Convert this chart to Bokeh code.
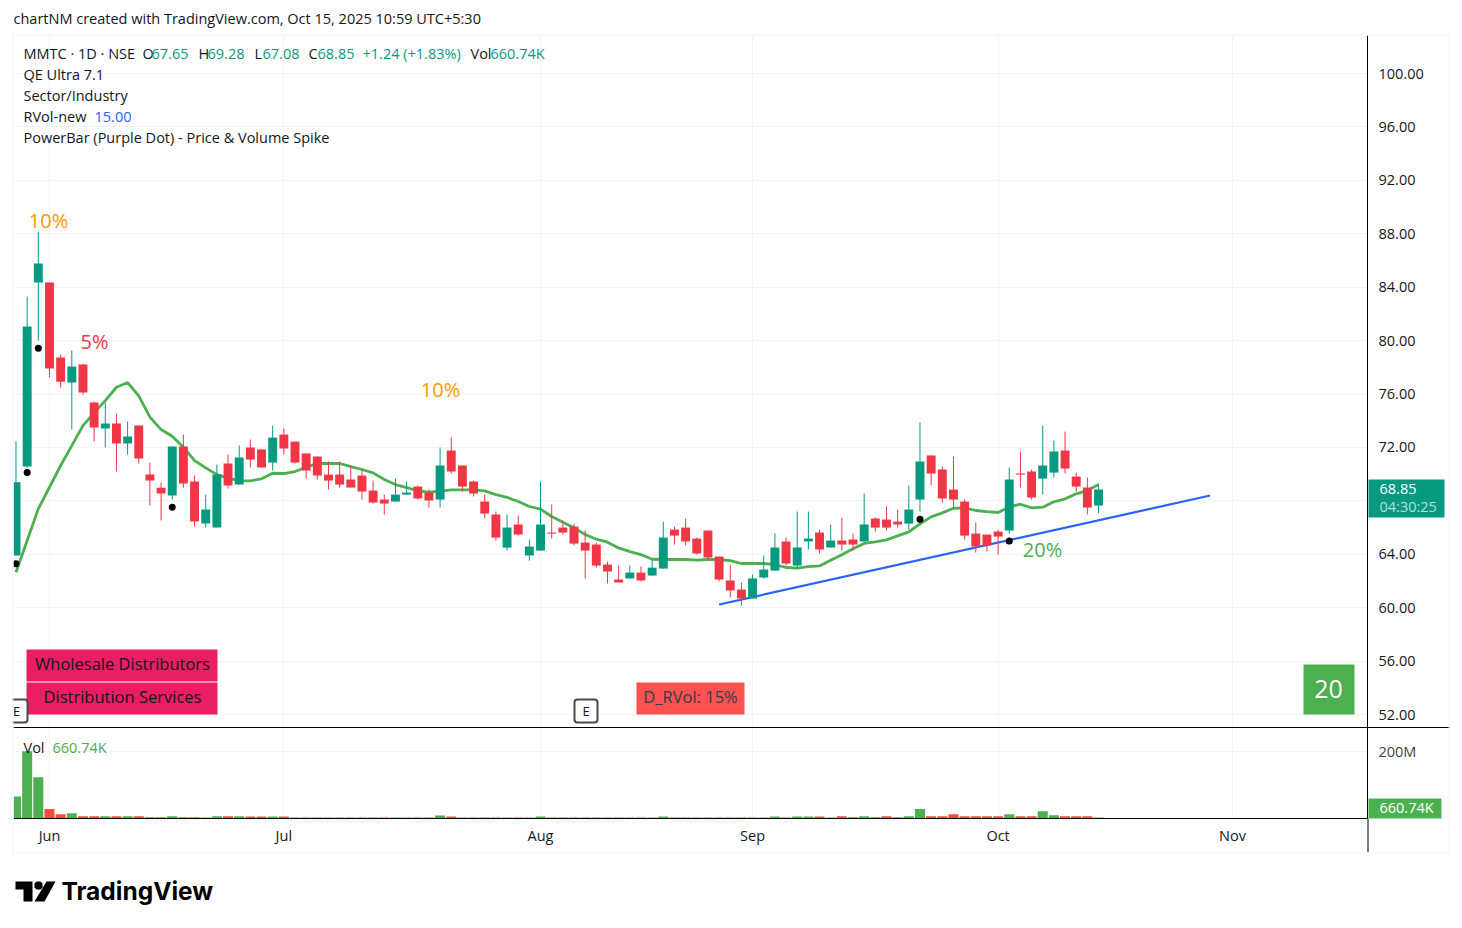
from bokeh.plotting import figure
from bokeh.layouts import column
from bokeh.models import (Range1d, FixedTicker, Grid, Label, BoxAnnotation, PolyAnnotation,
                          ColumnDataSource)
from bokeh.embed import file_html
from bokeh.resources import INLINE

# ---------- data ----------
opens = [63.91,70.57,84.35,84.35,78.73,76.86,78.21,75.36,73.42,73.79,72.29,73.64,69.97,68.99,68.40,72.07,69.45,66.30,66.00,70.80,
         69.22,71.99,71.85,70.87,72.97,72.44,71.55,71.32,69.97,69.97,69.60,69.90,68.77,68.10,67.95,68.47,69.07,68.62,68.10,71.77,
         70.65,69.45,67.95,66.98,64.50,66.23,63.91,64.28,65.63,66.00,66.08,64.88,64.73,63.23,62.11,62.19,62.63,62.41,62.93,65.85,
         66.00,65.18,65.78,63.83,62.04,61.36,60.69,62.26,62.78,64.96,63.16,64.96,65.63,64.51,65.03,65.11,64.96,66.68,66.60,66.45,
         66.30,68.10,71.40,70.35,68.85,67.95,65.55,65.48,65.70,65.78,70.05,70.20,69.67,70.12,71.77,69.82,69.00,67.65]
highs = [72.47,83.30,88.17,84.35,78.96,79.26,78.28,75.44,75.36,74.54,73.94,73.64,70.87,69.37,72.07,72.97,69.90,68.47,70.72,71.47,
         72.14,72.59,71.85,73.64,73.42,72.44,71.55,71.32,70.95,70.95,70.65,70.35,69.52,68.47,69.67,69.45,69.15,68.85,71.99,72.74,
         70.65,69.52,68.47,67.20,66.98,66.90,65.10,69.45,67.73,66.53,66.30,65.78,64.88,63.46,63.16,63.16,63.08,63.61,66.45,66.08,
         66.68,65.25,65.78,63.83,63.23,61.89,62.49,63.91,65.56,65.26,67.20,67.20,65.85,66.23,66.75,65.56,68.55,66.75,67.58,67.35,
         69.15,73.87,71.40,70.57,71.32,68.10,66.38,65.48,65.85,70.50,71.70,70.35,73.64,72.52,73.19,70.12,69.75,69.28]
lows = [63.90,70.50,80.00,77.24,76.49,73.34,75.96,72.44,72.00,70.20,71.47,70.80,67.65,66.53,68.10,68.99,66.08,66.00,66.00,68.92,
        69.20,70.50,70.50,70.27,71.47,70.80,69.67,69.60,68.85,69.00,69.00,68.10,67.80,66.98,67.95,68.47,68.10,67.50,67.50,70.05,
        68.70,68.33,66.68,65.03,64.28,65.40,63.53,64.28,65.18,65.48,64.66,62.18,63.00,61.81,61.89,62.19,61.96,62.41,62.93,64.73,
        64.66,63.98,63.61,61.96,60.76,60.16,60.69,62.18,62.78,63.16,62.93,64.36,64.06,64.51,64.28,64.28,64.96,65.70,65.78,66.00,
        65.85,67.20,69.15,67.88,67.50,65.10,64.13,64.21,63.98,65.55,69.00,68.10,68.48,69.75,70.05,68.70,66.98,67.08]
closes = [69.40,81.06,85.77,77.91,76.93,78.06,76.11,73.49,73.79,72.29,72.82,71.17,69.52,68.55,72.07,69.30,66.45,67.35,69.97,69.15,
          71.25,71.10,70.50,72.74,71.92,70.87,70.27,69.90,69.52,69.22,69.00,68.70,67.88,67.80,68.47,68.62,68.18,68.03,70.65,70.20,
          69.07,68.55,67.05,65.25,66.00,65.48,64.58,66.23,65.55,65.63,64.80,64.28,63.16,62.71,61.89,62.63,62.04,63.00,65.25,65.40,
          64.96,64.06,63.76,62.11,61.29,60.69,62.19,62.86,64.51,63.31,64.51,65.18,64.36,65.03,64.73,64.73,66.23,66.00,66.00,66.23,
          67.35,70.95,70.05,68.18,68.10,65.40,64.58,64.66,65.33,69.60,69.97,68.25,70.65,71.70,70.42,69.07,67.50,68.85]
sma = [62.66,65.03,67.40,69.02,70.65,72.14,73.64,74.59,75.51,76.51,76.86,75.86,74.27,73.34,72.84,72.02,71.02,70.47,69.97,69.70,
       69.52,69.50,69.65,70.07,70.05,70.20,70.52,70.80,70.80,70.80,70.57,70.35,70.10,69.60,69.22,69.00,68.75,68.65,68.73,68.83,
       68.83,68.83,68.75,68.47,68.27,67.95,67.58,67.38,66.83,66.40,65.98,65.48,65.13,64.91,64.48,64.20,63.98,63.63,63.61,63.61,
       63.61,63.56,63.61,63.61,63.53,63.31,63.31,63.31,63.23,63.01,62.96,63.08,63.13,63.56,63.96,64.41,64.81,64.93,65.08,65.38,
       65.68,66.28,66.80,67.10,67.45,67.48,67.28,67.20,67.13,67.55,67.75,67.48,67.53,67.93,68.15,68.53,68.77,69.22]
volumes_m = [66,201,123,28,13,16,7,7,7,7,7,7,4,4,7,4,4,3,7,7,
             7,6,6,6,6,3,3,3,3,3,3,3,3,3,3,3,3,3,9,6,
             3,3,3,3,3,3,3,6,3,3,3,3,3,3,3,3,3,3,6,3,
             3,3,3,3,3,3,3,3,6,3,6,6,6,3,7,4,7,4,7,4,
             7,28,7,7,13,7,7,7,7,13,7,7,22,10,7,7,7,3]
dot_idx = [0, 1, 2, 14, 81, 89]
dot_price = [63.3, 70.12, 79.43, 67.52, 66.63, 65.0]
trend_idx = [63, 107]
trend_price = [60.24, 68.4]
price_ticks = [52,56,60,64,68,72,76,80,84,88,92,96,100]
month_idx = [3, 24, 47, 66, 88, 109]
month_names = ["Jun", "Jul", "Aug", "Sep", "Oct", "Nov"]

UP, DOWN = "#089981", "#f23645"
VUP, VDOWN = "#4caf50", "#fa4b3c"
GRID = "#f0f3fa"
INK = "#131722"
FONT = "Open Sans"

n = len(opens)
idx = list(range(n))
up = [c >= o for o, c in zip(opens, closes)]
src = ColumnDataSource(dict(
    x=idx, o=opens, h=highs, l=lows, c=closes,
    top=[max(a, b) for a, b in zip(opens, closes)],
    bot=[min(a, b) for a, b in zip(opens, closes)],
    col=[UP if u else DOWN for u in up],
    vcol=[VUP if u else VDOWN for u in up],
    v=volumes_m,
))

xr = Range1d(-0.224, 121.1)
p = figure(width=1454, height=727, x_range=xr, y_range=Range1d(51.03, 102.85),
           output_backend="svg", toolbar_location=None, y_axis_location="right",
           min_border_left=13, min_border_right=87, min_border_top=35, min_border_bottom=0)
p.outline_line_color = None
p.xaxis.visible = False
p.xgrid.visible = False
p.add_layout(Grid(dimension=0, ticker=FixedTicker(ticks=month_idx), grid_line_color=GRID, grid_line_width=1))
p.ygrid.ticker = FixedTicker(ticks=price_ticks)
p.ygrid.grid_line_color = GRID
ax = p.yaxis[0]
ax.ticker = FixedTicker(ticks=price_ticks)
ax.major_label_overrides = {t: f"{t:.2f}" for t in price_ticks}
ax.major_tick_line_color = None
ax.minor_tick_line_color = None
ax.axis_line_color = "#000000"
ax.major_label_standoff = 5
ax.major_label_text_font = FONT
ax.major_label_text_font_size = "14.5px"
ax.major_label_text_color = INK

p.line(idx, sma, line_color="#4caf50", line_width=2.8)
p.line(trend_idx, trend_price, line_color="#2962ff", line_width=2.2)
p.segment("x", "h", "x", "l", source=src, line_color="col", line_width=1)
p.vbar("x", 0.8, "top", "bot", source=src, fill_color="col", line_color=None)
p.scatter(dot_idx, dot_price, size=7, color="#000000", line_color=None)

v = figure(width=1454, height=200, x_range=xr, y_range=Range1d(0, 271.6),
           output_backend="svg", toolbar_location=None, y_axis_location="right",
           min_border_left=13, min_border_right=87, min_border_top=0, min_border_bottom=109)
v.outline_line_color = None
v.vbar("x", 0.9, "v", 0, source=src, fill_color="vcol", line_color=None)
v.xgrid.ticker = FixedTicker(ticks=month_idx)
v.xgrid.grid_line_color = GRID
v.ygrid.ticker = FixedTicker(ticks=[200])
v.ygrid.grid_line_color = GRID
xa = v.xaxis[0]
xa.ticker = FixedTicker(ticks=month_idx)
xa.major_label_overrides = dict(zip(month_idx, month_names))
xa.major_tick_line_color = None
xa.minor_tick_line_color = None
xa.axis_line_color = "#000000"
xa.major_label_standoff = 1
xa.major_label_text_font = FONT
xa.major_label_text_font_size = "14.5px"
xa.major_label_text_color = INK
ya = v.yaxis[0]
ya.ticker = FixedTicker(ticks=[200])
ya.major_label_overrides = {200: "200M"}
ya.major_tick_line_color = None
ya.minor_tick_line_color = None
ya.axis_line_color = "#000000"
ya.major_label_standoff = 5
ya.major_label_text_font = FONT
ya.major_label_text_font_size = "14.5px"
ya.major_label_text_color = "#3b3f4a"

# transparent sheet over both panes, for the captions and tags that sit outside their frames;
# its ranges run in page pixels
o = figure(width=1454, height=927, x_range=Range1d(0, 1454), y_range=Range1d(927, 0),
           output_backend="svg", toolbar_location=None, x_axis_location=None, y_axis_location=None,
           min_border=0, margin=(-927, 0, 0, 0))
o.outline_line_color = None
o.background_fill_color = None
o.border_fill_color = None
o.grid.visible = False

def txt(x, y, s, color=INK, size=14.5, align="left", bold=False, font=FONT):
    o.add_layout(Label(x=x, y=y - 1, text=s, text_color=color, text_font=font, text_font_size=f"{size}px",
                       text_align=align, text_baseline="middle",
                       text_font_style="bold" if bold else "normal"))

def box(l, r, t, b, color, line=None, lw=1, radius=0):
    o.add_layout(BoxAnnotation(left=l, right=r, top=t, bottom=b, fill_color=color, fill_alpha=1,
                               line_color=line, line_alpha=1, line_width=lw, border_radius=radius))

def poly(pts, color):
    o.add_layout(PolyAnnotation(xs=[a for a, _ in pts], ys=[b for _, b in pts],
                                fill_color=color, fill_alpha=1, line_color=None))

# header
txt(13, 19, "chartNM created with TradingView.com, Oct 15, 2025 10:59 UTC+5:30")
for x, s, c in [(23, "MMTC · 1D · NSE", INK), (142, "O", INK), (151, "67.65", UP), (198, "H", INK), (207, "69.28", UP),
                (254, "L", INK), (262, "67.08", UP), (308, "C", INK), (317, "68.85", UP),
                (362, "+1.24 (+1.83%)", UP), (470, "Vol", INK), (490, "660.74K", UP)]:
    txt(x, 54, s, c)
txt(23, 75, "QE Ultra 7.1")
txt(23, 96, "Sector/Industry")
txt(23, 117, "RVol-new")
txt(94, 117, "15.00", "#2962ff")
txt(23, 138, "PowerBar (Purple Dot) - Price & Volume Spike")

# chart notes
txt(48, 221, "10%", "#ff9800", 20, "center")
txt(94, 342, "5%", DOWN, 20, "center")
txt(440, 390, "10%", "#ff9800", 20, "center")
txt(1042, 550, "20%", "#4caf50", 20, "center")

# price tag
box(1368, 1444, 479, 517, UP)
txt(1379, 489, "68.85", "#ffffff")
txt(1379, 507, "04:30:25", "#b5e0d8")

# sector boxes
box(26, 217, 649, 681, "#e91e63")
box(26, 217, 682, 714, "#e91e63")
txt(122, 664, "Wholesale Distributors", INK, 16.5, "center")
txt(122, 697, "Distribution Services", INK, 16.5, "center")
box(636, 744, 682, 714, "#ff5252")
txt(690, 697, "D_RVol: 15%", "#363a45", 16.5, "center")
box(1303, 1354, 664, 714, "#4caf50")
txt(1328, 689, "20", "#ffffff", 25, "center")
box(574, 597, 699, 722, "#ffffff", "#4a4a4a", 2, 3)
txt(585.5, 711, "E", INK, 13, "center")
box(5, 27, 699, 722, "#ffffff", "#4a4a4a", 2, 3)
box(0, 12, 690, 730, "#ffffff")
txt(16, 711, "E", INK, 13, "center")

# separators and outer frame
box(13, 1449, 726.5, 727.5, "#000000")
box(1367, 1368, 818, 852, "#000000")
box(12, 1449, 34, 35, GRID)
box(12, 1449, 852, 853, GRID)
box(12, 13, 34, 853, GRID)
box(1448, 1449, 34, 853, GRID)

# volume pane
txt(23, 748, "Vol")
txt(52, 748, "660.74K", "#4caf50")
box(1368, 1441, 798, 818, "#4caf50")
txt(1379, 808, "660.74K", "#ffffff")

# logo
poly([(15, 881), (32, 881), (32, 901), (23, 901), (23, 889), (15, 889)], "#000000")
poly([(46, 881), (55, 881), (44, 901), (34, 901)], "#000000")
poly([(36, 881), (40, 881), (42, 883), (42, 887), (40, 889), (36, 889), (34, 887), (34, 883)], "#000000")
txt(61, 891, "TradingView", "#000000", 24.5, "left", True, "Inter")

open("out.html", "w").write(file_html([column(p, v, spacing=0), o], INLINE))
